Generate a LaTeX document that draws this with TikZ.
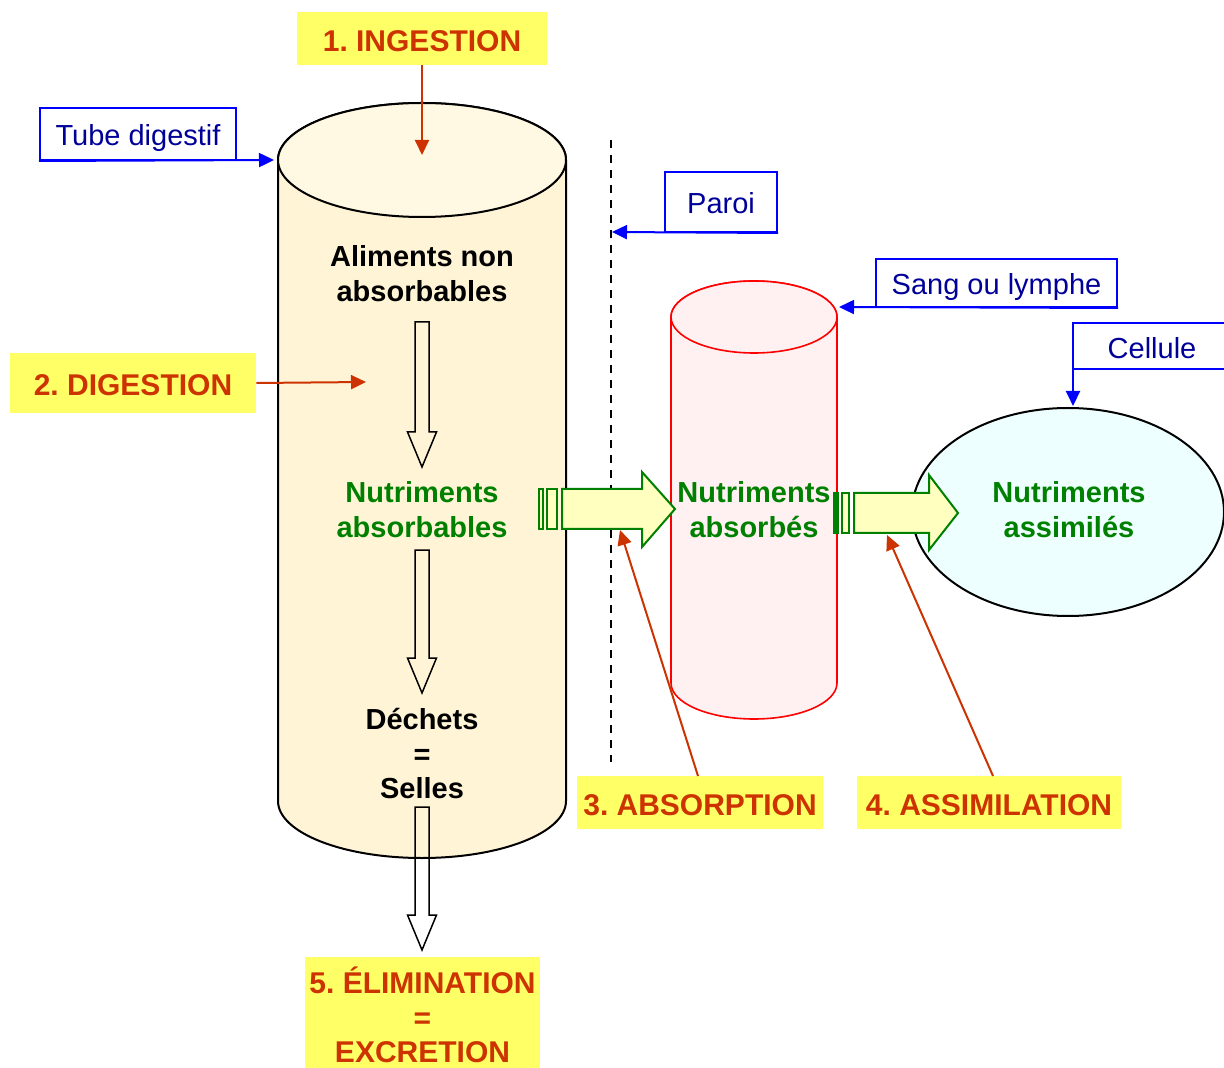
\documentclass[tikz,border=0pt]{standalone}
\usepackage{fontspec}
\setmainfont{Liberation Sans}
\usetikzlibrary{arrows.meta}
\definecolor{lab}{HTML}{CC3300}
\definecolor{labfill}{HTML}{FFFF66}
\definecolor{bluebox}{HTML}{0000FF}
\definecolor{bluetext}{HTML}{000099}
\definecolor{cream}{HTML}{FFF5D6}
\definecolor{creamtop}{HTML}{FFF8E2}
\definecolor{pinkfill}{HTML}{FFF1F1}
\definecolor{cellfill}{HTML}{EEFFFF}
\definecolor{nutr}{HTML}{008000}
\definecolor{arrowfill}{HTML}{FFFFC0}
\newcommand\hollowdown[3]{\draw[line width=0.75pt] (#1-7,#2) -- (#1+7,#2) -- (#1+7,#3-35) -- (#1+14.5,#3-35) -- (#1,#3) -- (#1-14.5,#3-35) -- (#1-7,#3-35) -- cycle;}
\frenchspacing
\begin{document}
\frenchspacing
\begin{tikzpicture}[x=0.5pt,y=-0.5pt,
  stage/.style={fill=labfill, text=lab, font=\fontsize{15}{17.25}\selectfont\bfseries, align=center, inner sep=0pt},
  stagebox/.style={stage, text height=12.6pt, text depth=0pt},
  body/.style={font=\fontsize{14.5}{17.25}\selectfont\bfseries, align=center, inner sep=0pt},
  nutri/.style={body, text=nutr},
  bluelab/.style={draw=bluebox, line width=1pt, text=bluetext, font=\fontsize{14.5}{17}\selectfont, inner sep=0pt, text height=12pt, text depth=0pt},
  redarr/.style={draw=lab, line width=1pt, -{Triangle[length=7.5pt,width=7pt]}},
  bluearr/.style={draw=bluebox, line width=1pt, -{Triangle[length=7.5pt,width=7pt]}},
  fatarrow/.style={draw=nutr, line width=1pt, fill=arrowfill, line join=miter}
]
\fill[white] (0,0) rectangle (1224,1068);
\useasboundingbox (0,0) rectangle (1224,1068);

% big cylinder (tube digestif)
\draw[line width=1pt, fill=cream] (278,160) -- (278,801)
  arc[start angle=180, end angle=360, x radius=72pt, y radius=28.5pt]
  -- (566,160) arc[start angle=0, end angle=180, x radius=72pt, y radius=28.5pt] -- cycle;
\draw[line width=1pt, fill=creamtop] (422,160) ellipse [x radius=72pt, y radius=28.5pt];
\coordinate (tubeleft) at (274,160);
\coordinate (tubetop) at (422,155);
\coordinate (tubemid) at (366,382);

% red cylinder (sang)
\draw[line width=0.8pt, draw=red, fill=pinkfill] (671,317) -- (671,683)
  arc[start angle=180, end angle=360, x radius=41.5pt, y radius=18pt]
  -- (837,317) arc[start angle=0, end angle=180, x radius=41.5pt, y radius=18pt] -- cycle;
\draw[line width=0.8pt, draw=red, fill=pinkfill] (754,317) ellipse [x radius=41.5pt, y radius=18pt];
\coordinate (sangright) at (839,307);

% cell
\draw[line width=1pt, fill=cellfill] (1068,512) ellipse [x radius=78pt, y radius=52pt];
\coordinate (celltop) at (1073,406);

% dashed wall
\draw[line width=0.8pt, dash pattern=on 4pt off 3.5pt] (611,140) -- (611,762);
\coordinate (paroipt) at (612,232);

% stage labels
\node[stagebox, minimum width=125pt, minimum height=26.5pt] (ing) at (422,38.5) {1. INGESTION};
\node[stagebox, minimum width=123pt, minimum height=30pt] (dig) at (133,383) {2. DIGESTION};
\node[stagebox, minimum width=123pt, minimum height=26.5pt] (abs) at (700,802.5) {3. ABSORPTION};
\node[stagebox, minimum width=132pt, minimum height=26.5pt] (ass) at (989,802.5) {4. ASSIMILATION};
\node[stage, minimum width=117.5pt, minimum height=55.5pt] (elim) at (422.5,1012.5) {};
\node[stage, fill=none] (elimtext) at (422.5,1015) {5. ÉLIMINATION\\=\\EXCRETION};

% red arrows
\draw[redarr] (ing.south) -- (tubetop);
\draw[redarr] (dig.east) -- (tubemid);
\coordinate (absA) at (698,776);
\coordinate (absB) at (620,530);
\draw[redarr] (absA) -- (absB);
\coordinate (assA) at (993,776);
\coordinate (assB) at (887,535);
\draw[redarr] (assA) -- (assB);

% blue labels
\node[bluelab, minimum width=98pt, minimum height=26pt] (tube) at (138,134) {Tube digestif};
\draw[bluearr] (tube.south west) -- (tubeleft);
\node[bluelab, minimum width=56pt, minimum height=30pt] (paroi) at (721,202) {Paroi};
\draw[bluearr] (paroi.south east) -- (paroipt);
\node[bluelab, minimum width=120.5pt, minimum height=24pt] (sang) at (996.5,283) {Sang ou lymphe};
\draw[bluearr] (sang.south east) -- (sangright);
\node[text=bluetext, font=\fontsize{14.5}{17}\selectfont, inner sep=0pt, text height=12pt, text depth=0pt] (cell) at (1152,347) {Cellule};
\coordinate (cellA) at (1073,369);
\draw[draw=bluebox, line width=1pt] (1226,323) -- (1073,323) -- (cellA) -- (1226,369);
\draw[bluearr] (cellA) -- (celltop);

% texts
\node[body] (alim) at (422,273.5) {Aliments non\\absorbables};
\node[nutri] (nabs) at (422,509.5) {Nutriments\\absorbables};
\node[body] (dech) at (422,754) {Déchets\\=\\Selles};
\node[nutri] (nabe) at (754,509.5) {Nutriments\\absorbés};
\node[nutri] (nass) at (1069,509.5) {Nutriments\\assimilés};

% hollow arrows
\hollowdown{422}{322}{467}
\hollowdown{422}{550}{693}
\hollowdown{422}{807}{950}

% fat green arrows
\draw[fatarrow] (539,489) rectangle (543,529);
\draw[fatarrow] (547,489) rectangle (557,529);
\draw[fatarrow] (562,489) -- (642,489) -- (642,472) -- (675,509) -- (642,547) -- (642,529) -- (562,529) -- cycle;
\draw[fatarrow, fill=nutr] (834,493) rectangle (838,533);
\draw[fatarrow] (842,493) rectangle (849,533);
\draw[fatarrow] (854,493) -- (929,493) -- (929,475) -- (958,513) -- (929,550) -- (929,533) -- (854,533) -- cycle;
\end{tikzpicture}
\end{document}
